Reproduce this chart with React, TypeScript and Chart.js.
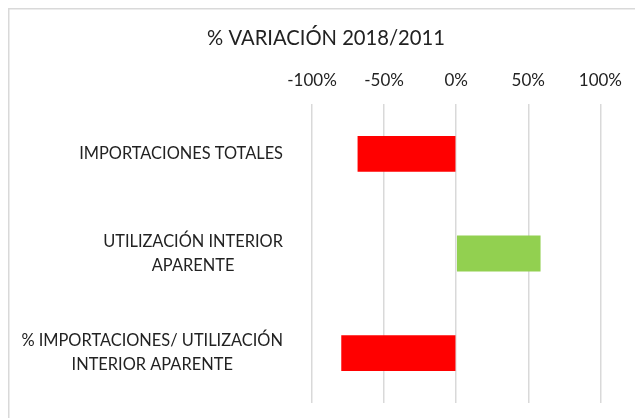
import React, { useEffect, useRef } from "react";
import { Chart, registerables } from "chart.js";

Chart.register(...registerables);

const TITLE = "% VARIACIÓN 2018/2011";
const CATEGORIES: string[][] = [
  ["IMPORTACIONES TOTALES"],
  ["UTILIZACIÓN INTERIOR", "APARENTE"],
  ["% IMPORTACIONES/ UTILIZACIÓN", "INTERIOR APARENTE"],
];
const VALUES = [-68.4, 58.5, -79.7];
const BAR_COLORS = ["#ff0000", "#92d050", "#ff0000"];
const X_MIN = -100;
const X_MAX = 100;
const X_STEP = 50;

const FONT = "Lato, 'Noto Sans', sans-serif";
const TEXT = "#222222";
const PAD_LEFT = 51;

const framePlugin = {
  id: "frame",
  beforeDraw(chart: any) {
    const ctx = chart.ctx;
    ctx.save();
    ctx.strokeStyle = "#d9d9d9";
    ctx.lineWidth = 1.5;
    ctx.beginPath();
    ctx.moveTo(8.75, chart.height + 2);
    ctx.lineTo(8.75, 8.75);
    ctx.lineTo(chart.width + 2, 8.75);
    ctx.stroke();
    ctx.restore();
  },
};

const labelPlugin = {
  id: "blockLabels",
  afterDraw(chart: any) {
    const ctx = chart.ctx;
    const scale = chart.scales.y;
    const size = 16.4;
    const lineH = 24;
    ctx.save();
    ctx.font = `${size}px ${FONT}`;
    ctx.fillStyle = TEXT;
    ctx.textAlign = "center";
    ctx.textBaseline = "middle";
    const right = scale.right - 29;
    (chart.data.labels as string[][]).forEach((lines, i) => {
      const arr = Array.isArray(lines) ? lines : [lines];
      const w = Math.max(...arr.map((l) => ctx.measureText(l).width));
      const cx = right - w / 2;
      const cy = scale.getPixelForTick(i);
      const top = cy - ((arr.length - 1) * lineH) / 2;
      arr.forEach((l, k) => ctx.fillText(l, cx, top + k * lineH));
    });
    ctx.restore();
  },
};

export default function App() {
  const ref = useRef<HTMLCanvasElement>(null);
  useEffect(() => {
    if (!ref.current) return;
    const chart = new Chart(ref.current, {
      type: "bar",
      data: {
        labels: CATEGORIES,
        datasets: [
          {
            data: VALUES,
            backgroundColor: BAR_COLORS,
            borderWidth: 0,
            barPercentage: 0.36,
            categoryPercentage: 1,
          },
        ],
      },
      options: {
        indexAxis: "y",
        animation: false,
        responsive: true,
        maintainAspectRatio: false,
        layout: { padding: { left: PAD_LEFT, right: 34, top: 0, bottom: 15 } },
        plugins: {
          legend: { display: false },
          tooltip: { enabled: false },
          title: {
            display: true,
            text: TITLE,
            color: TEXT,
            font: { family: FONT, size: 20.2, weight: "normal" },
            padding: { top: 26, bottom: 10 },
          },
        },
        scales: {
          x: {
            position: "top",
            min: X_MIN,
            max: X_MAX,
            border: { display: false },
            grid: { color: "#d9d9d9", lineWidth: 1.5, drawTicks: false },
            ticks: {
              stepSize: X_STEP,
              padding: 13,
              color: TEXT,
              font: { family: FONT, size: 17 },
              callback: (v: any) => `${v}%`,
            },
            afterFit: (s: any) => {
              s.height = 104 - (26 + 10 + 20.2 * 1.2);
            },
          },
          y: {
            position: "left",
            border: { display: false },
            grid: { display: false },
            ticks: { display: false },
            afterFit: (s: any) => {
              s.width = 312 - PAD_LEFT;
            },
          },
        },
      },
      plugins: [framePlugin, labelPlugin],
    });
    return () => chart.destroy();
  }, []);
  return (
    <div style={{ position: "fixed", left: 0, top: 0, width: 635, height: 418, background: "#fff" }}>
      <canvas ref={ref} />
    </div>
  );
}
